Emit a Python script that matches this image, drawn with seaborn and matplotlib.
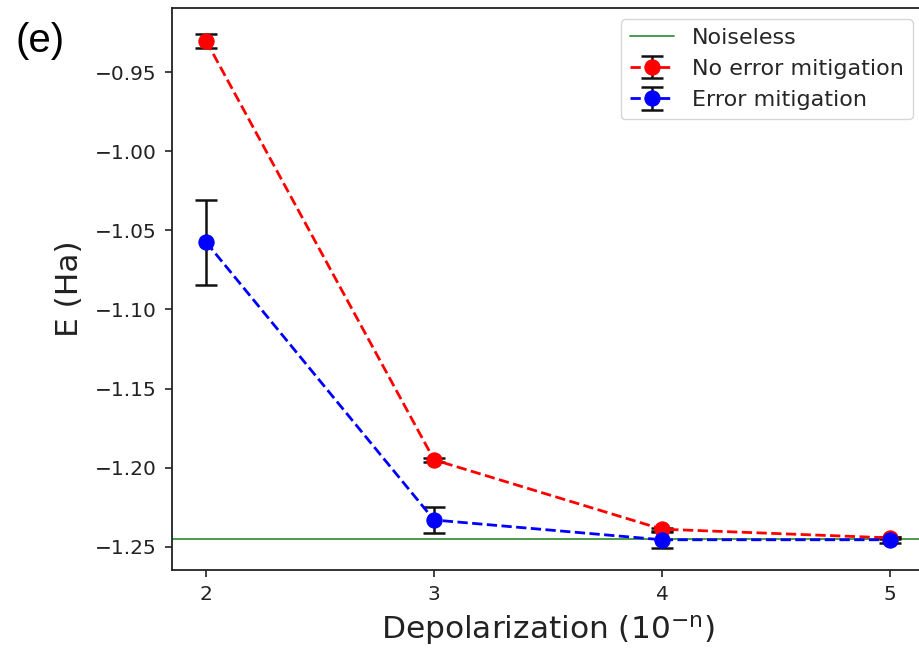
import matplotlib
matplotlib.use("Agg")
import matplotlib.pyplot as plt
import seaborn as sns

# depolarization exponent n (rate 10^-n)
depol = [2, 3, 4, 5]

e_no_mit = [-0.9303, -1.1950, -1.2388, -1.2443]
err_no_mit = [0.0045, 0.0012, 0.0010, 0.0008]

e_mit = [-1.0575, -1.2330, -1.2455, -1.2455]
err_mit = [0.0270, 0.0080, 0.0050, 0.0020]

e_noiseless = -1.2449

sns.set_style("ticks")
plt.rcParams["font.family"] = ["DejaVu Sans"]

fig = plt.figure(figsize=(9.2, 6.5), dpi=100)
ax = fig.add_axes([172 / 920, 80 / 650, 752 / 920, 562 / 650])

noiseless = ax.axhline(e_noiseless, color="#4a9a4a", lw=1.4, zorder=1)

sns.lineplot(x=depol, y=e_no_mit, color="red", marker="o", linestyle="--",
             lw=2, markersize=11, markeredgecolor="red", ax=ax, zorder=3)
sns.lineplot(x=depol, y=e_mit, color="blue", marker="o", linestyle="--",
             lw=2, markersize=11, markeredgecolor="blue", ax=ax, zorder=3)
line_red, line_blue = ax.lines[1], ax.lines[2]

eb_red = ax.errorbar(depol, e_no_mit, yerr=err_no_mit, fmt="none",
                     ecolor="#111111", elinewidth=1.8, capsize=8, capthick=1.8, zorder=2)
eb_blue = ax.errorbar(depol, e_mit, yerr=err_mit, fmt="none",
                      ecolor="#111111", elinewidth=1.8, capsize=8, capthick=1.8, zorder=2)

ax.set_xlim(1.85, 5.15)
ax.set_ylim(-1.2646, -0.9095)
ax.set_xticks(depol)
ax.set_yticks([-0.95, -1.00, -1.05, -1.10, -1.15, -1.20, -1.25])
ax.tick_params(labelsize=14.5, length=5, width=1.2, pad=6, colors="#222222")
for s in ax.spines.values():
    s.set_color("#222222")
    s.set_linewidth(1.3)

ax.set_xlabel(r"Depolarization ($10^{-\mathrm{n}}$)", fontsize=22.5, color="#222222", labelpad=6)
ax.set_ylabel("E (Ha)", fontsize=22.5, color="#222222", labelpad=8)

ax.legend([noiseless, (eb_red, line_red), (eb_blue, line_blue)],
          ["Noiseless", "No error mitigation", "Error mitigation"],
          loc="upper right", fontsize=16, frameon=True, borderaxespad=0.5)

fig.text(15 / 920, 1 - 52 / 650, "(e)", fontsize=29, family="Liberation Sans", color="black")

fig.savefig("out.png", dpi=100)
